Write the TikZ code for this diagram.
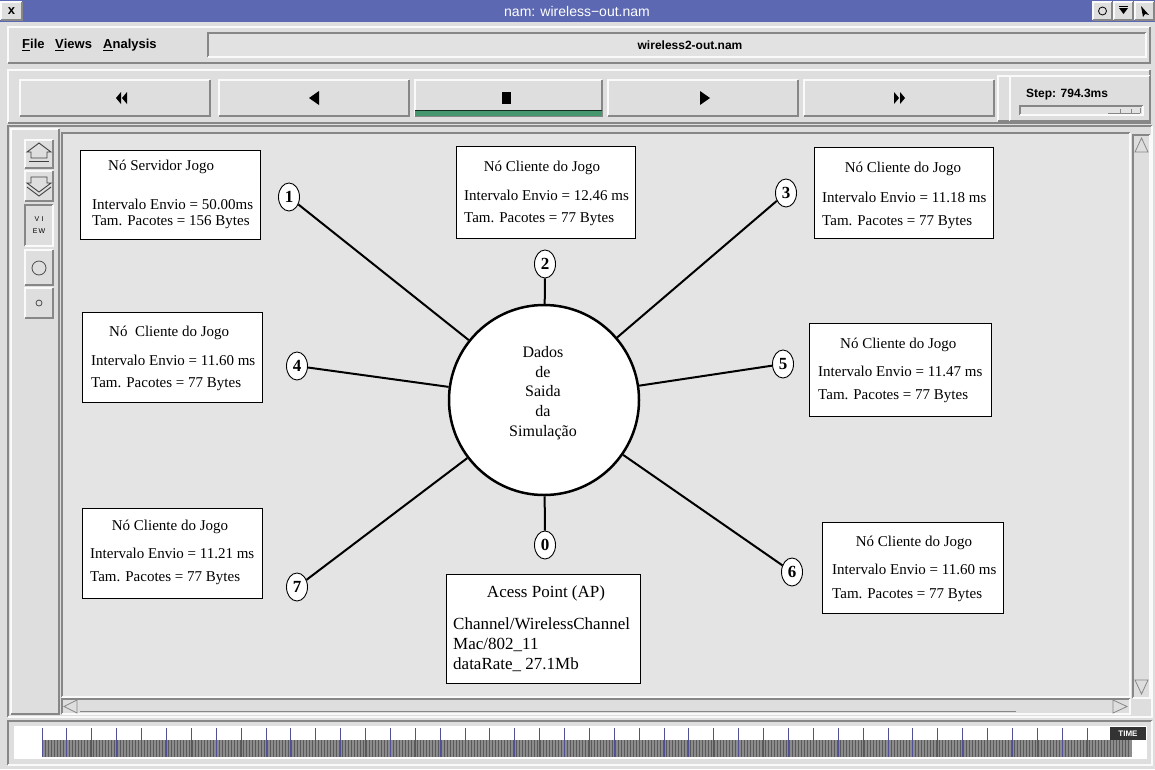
\documentclass[tikz,border=0pt]{standalone}
\usepackage{fontspec}
\setmainfont{Liberation Serif}
\newfontfamily\uisans{Liberation Sans}
\usetikzlibrary{shapes.geometric}

\definecolor{winbg}{RGB}{222,222,222}
\definecolor{canvasbg}{RGB}{228,228,228}
\definecolor{fieldbg}{RGB}{226,226,226}
\definecolor{hilite}{RGB}{250,250,250}
\definecolor{shadow}{RGB}{135,135,135}
\definecolor{titleblue}{RGB}{92,104,178}
\definecolor{playgreen}{RGB}{70,150,110}
\definecolor{tickblue}{RGB}{80,80,150}
\definecolor{hatch}{RGB}{140,140,140}
\definecolor{hatchline}{RGB}{90,90,90}

% raised and sunken Tk-style frames: x1 y1 x2 y2 (fill)
\newcommand{\uiraised}[4]{%
  \fill[winbg] (#1,#2) rectangle (#3,#4);
  \draw[hilite,line width=1.2] (#1,#4) -- (#1,#2) -- (#3,#2);
  \draw[shadow,line width=1.2] (#1,#4) -- (#3,#4) -- (#3,#2);}
\newcommand{\uisunken}[5]{%
  \fill[#5] (#1,#2) rectangle (#3,#4);
  \draw[shadow,line width=1.2] (#1,#4) -- (#1,#2) -- (#3,#2);
  \draw[hilite,line width=1.2] (#1,#4) -- (#3,#4) -- (#3,#2);}

\tikzset{
  infobox/.style={draw=black, line width=1.3, fill=white, inner sep=0, anchor=north west},
  txt/.style={inner sep=0, font=\fontsize{15}{18}\selectfont},
  aptxt/.style={inner sep=0, font=\fontsize{17}{20}\selectfont},
  numnode/.style={ellipse, draw=black, line width=0.9, fill=white, minimum width=21,
    minimum height=28, inner sep=0, font=\bfseries\fontsize{17}{17}\selectfont},
  link/.style={line width=2, draw=black},
  uitext/.style={inner sep=0, font=\uisans\bfseries\fontsize{13}{13}\selectfont},
  icon/.style={fill=black},
}

\begin{document}
\begin{tikzpicture}[x=1pt,y=-1pt]
\useasboundingbox (0,0) rectangle (1155,769);

% window background and title bar
\fill[winbg] (0,0) rectangle (1155,769);
\fill[titleblue] (0,0) rectangle (1155,22);
\uiraised{1}{2}{22}{20}
\node[inner sep=0, font=\uisans\bfseries\fontsize{13}{13}\selectfont] (closex) at (11.5,11) {x};
\node[inner sep=0, text=white, font=\uisans\fontsize{14}{14}\selectfont] (title) at (577,11) {nam: wireless−out.nam};
\uiraised{1093}{2}{1112}{20}
\uiraised{1114}{2}{1133}{20}
\uiraised{1135}{2}{1154}{20}
\draw[black, line width=0.8] (1102.5,11) circle (4);
\fill[black] (1119,8) -- (1128,8) -- (1123.5,14) -- cycle;
\draw[black, line width=1] (1119,6) -- (1128,6);
\fill[black] (1141,6) -- (1149,15) -- (1145,14) -- (1143,17) -- cycle;

% menu row
\uiraised{8}{27}{1150}{63}
\node[uitext, anchor=west] (mfile) at (22,45) {\underline{F}ile};
\node[uitext, anchor=west] (mviews) at (55,45) {\underline{V}iews};
\node[uitext, anchor=west] (manalysis) at (103,45) {\underline{A}nalysis};
\uisunken{208}{33}{1146}{57}{fieldbg}
\node[inner sep=0, font=\uisans\bfseries\fontsize{12}{12}\selectfont] (fname) at (690,45) {wireless2-out.nam};

% transport buttons
\uiraised{8}{70}{1150}{123}
\uiraised{20}{80}{210}{116}
\uiraised{219}{80}{409}{116}
\uiraised{415}{80}{602}{116}
\uiraised{608}{80}{798}{116}
\uiraised{804}{80}{994}{116}
\fill[playgreen] (415,110) rectangle (602,116);
\draw[black!70!playgreen, line width=1] (415,110) -- (602,110);
% icons
\fill[icon] (116,98) -- (121,92) -- (121,104) -- cycle;
\fill[icon] (122,98) -- (127,92) -- (127,104) -- cycle;
\fill[icon] (309,98) -- (319,91) -- (319,105) -- cycle;
\fill[icon] (502,92) rectangle (511,104);
\fill[icon] (700,91) -- (710,98) -- (700,105) -- cycle;
\fill[icon] (894,92) -- (899,98) -- (894,104) -- cycle;
\fill[icon] (900,92) -- (905,98) -- (900,104) -- cycle;
% step box
\uiraised{998}{76}{1010}{121}
\uiraised{1010}{76}{1150}{121}
\node[inner sep=0, anchor=west, font=\uisans\bfseries\fontsize{12}{12}\selectfont] (step) at (1026,95) {Step: 794.3ms};
\uisunken{1020}{106}{1143}{115}{fieldbg}
\draw[shadow, line width=0.8] (1108,113) -- (1140,113);
\draw[shadow, line width=0.8] (1120,109) -- (1120,113) (1131,109) -- (1131,113) (1140,108) -- (1140,113);

% canvas frame, toolbar, scrollbars
\uisunken{8}{126}{1152}{717}{winbg}
\uiraised{11}{129}{59}{714}
\uiraised{25}{140}{53}{168}
\uiraised{25}{171}{53}{201}
\uisunken{25}{205}{53}{246}{winbg}
\uiraised{25}{250}{53}{285}
\uiraised{25}{288}{53}{318}
\draw[black!75, line width=0.9] (31,158) -- (31,152) -- (27,152) -- (39,143) -- (51,152) -- (47,152) -- (47,158) -- cycle;
\draw[black!75, line width=0.9] (29,161) -- (49,161);
\draw[black!75, line width=0.9] (31,177) -- (31,183) -- (27,183) -- (39,192) -- (51,183) -- (47,183) -- (47,177) -- cycle;
\draw[black!75, line width=0.9] (27,187) -- (39,196) -- (51,187);
\node[inner sep=0, font=\uisans\fontsize{7}{7}\selectfont] (viewa) at (39,219) {V\,\,I};
\node[inner sep=0, font=\uisans\fontsize{7}{7}\selectfont] (viewb) at (39,231) {E\,W};
\draw[black!70, line width=0.8] (39,268) circle (7);
\draw[black!70, line width=0.8] (39,303) circle (3);

\uisunken{62}{133}{1130}{697}{canvasbg}
\uisunken{1133}{135}{1150}{698}{winbg}
\draw[shadow, line width=0.8] (1135,152) -- (1141.5,138) -- (1148,152) -- cycle;
\draw[shadow, line width=0.8] (1135,680) -- (1141.5,694) -- (1148,680) -- cycle;
\uisunken{62}{699}{1130}{714}{winbg}
\draw[shadow, line width=0.8] (77,700) -- (64,706.5) -- (77,713) -- cycle;
\draw[shadow, line width=0.8] (1113,700) -- (1127,706.5) -- (1113,713) -- cycle;
\draw[shadow, line width=0.8] (80,711) -- (1016,711);

% timeline
\uisunken{8}{721}{1152}{765}{winbg}
\fill[white] (14,726) rectangle (1147,759);
\fill[hatch] (42,740) rectangle (1132,757);
\foreach \k in {0,...,362} {
  \draw[hatchline, line width=0.9] ({42.5+\k*3},740) -- ({42.5+\k*3},757);
}
\foreach \i in {0,...,42} {
  \draw[tickblue, line width=0.8] ({42+\i*24.88},728) -- ({42+\i*24.88},757);
}
\fill[black!80] (1110,727) rectangle (1146,740);
\node[inner sep=0, text=white, font=\uisans\bfseries\fontsize{8}{8}\selectfont] (timelbl) at (1128,733.5) {TIME};

% central node and stations
\node[circle, draw=black, line width=2.5, fill=white, minimum size=190, inner sep=0] (sim) at (544,400) {};
\node[inner sep=0, align=center, font=\fontsize{16}{19.8}\selectfont] (simtxt) at (543,393) {Dados\\de\\Saida\\da\\Simulação};

\node[numnode] (n0) at (545,545) {0};
\node[numnode] (n1) at (289,197) {1};
\node[numnode] (n2) at (545,264) {2};
\node[numnode] (n3) at (786,193) {3};
\node[numnode] (n4) at (297,366) {4};
\node[numnode] (n5) at (783,364) {5};
\node[numnode] (n6) at (792,572) {6};
\node[numnode] (n7) at (297,587) {7};

\foreach \n in {n0,n1,n2,n3,n4,n5,n6,n7} {
  \draw[link] (sim) -- (\n);
}

% information boxes
\node[infobox, minimum width=180, minimum height=89] (box1) at (80,150) {};
\node[txt, anchor=west] (b1a) at (108,167) {Nó Servidor Jogo};
\node[txt, anchor=west] (b1b) at (92,204) {Intervalo Envio = 50.00ms};
\node[txt, anchor=west] (b1c) at (92,222) {Tam. Pacotes = 156 Bytes};

\node[infobox, minimum width=179, minimum height=92] (box2) at (456,146) {};
\node[txt] (b2a) at (542,168) {Nó Cliente do Jogo};
\node[txt, anchor=west] (b2b) at (464,195) {Intervalo Envio = 12.46 ms};
\node[txt, anchor=west] (b2c) at (464,219) {Tam. Pacotes = 77 Bytes};

\node[infobox, minimum width=179, minimum height=91] (box3) at (814,147) {};
\node[txt] (b3a) at (903,169) {Nó Cliente do Jogo};
\node[txt, anchor=west] (b3b) at (822,197) {Intervalo Envio = 11.18 ms};
\node[txt, anchor=west] (b3c) at (822,222) {Tam. Pacotes = 77 Bytes};

\node[infobox, minimum width=180, minimum height=90] (box4) at (82,312) {};
\node[txt, anchor=west] (b4a) at (109,333) {Nó\ \ Cliente do Jogo};
\node[txt, anchor=west] (b4b) at (91,360) {Intervalo Envio = 11.60 ms};
\node[txt, anchor=west] (b4c) at (91,384) {Tam. Pacotes = 77 Bytes};

\node[infobox, minimum width=182, minimum height=93] (box5) at (809,323) {};
\node[txt, anchor=west] (b5a) at (840,345) {Nó Cliente do Jogo};
\node[txt, anchor=west] (b5b) at (818,371) {Intervalo Envio = 11.47 ms};
\node[txt, anchor=west] (b5c) at (818,396) {Tam. Pacotes = 77 Bytes};

\node[infobox, minimum width=181, minimum height=91] (box6) at (822,522) {};
\node[txt] (b6a) at (914,543) {Nó Cliente do Jogo};
\node[txt, anchor=west] (b6b) at (832,569) {Intervalo Envio = 11.60 ms};
\node[txt, anchor=west] (b6c) at (832,595) {Tam. Pacotes = 77 Bytes};

\node[infobox, minimum width=180, minimum height=90] (box7) at (82,508) {};
\node[txt] (b7a) at (170,527) {Nó Cliente do Jogo};
\node[txt, anchor=west] (b7b) at (90,553) {Intervalo Envio = 11.21 ms};
\node[txt, anchor=west] (b7c) at (90,578) {Tam. Pacotes = 77 Bytes};

\node[infobox, minimum width=194, minimum height=109] (apbox) at (446,574) {};
\node[aptxt] (apa) at (546,593) {Acess Point (AP)};
\node[aptxt, anchor=west] (apb) at (453,624) {Channel/WirelessChannel};
\node[aptxt, anchor=west] (apc) at (453,645) {Mac/802\_11};
\node[aptxt, anchor=west] (apd) at (453,665) {dataRate\_ 27.1Mb};
\end{tikzpicture}
\end{document}
